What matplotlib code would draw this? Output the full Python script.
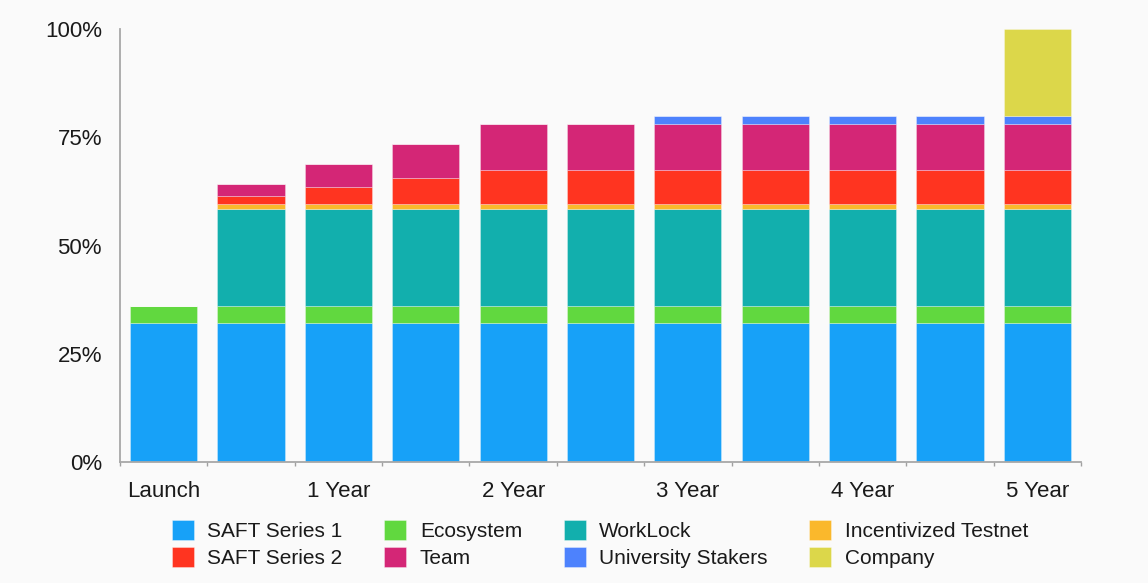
import matplotlib
matplotlib.use("Agg")
import matplotlib.pyplot as plt
import numpy as np
from matplotlib.patches import Patch

categories = ["Launch", "", "1 Year", "", "2 Year", "", "3 Year", "", "4 Year", "", "5 Year"]
saft1 = [32, 32, 32, 32, 32, 32, 32, 32, 32, 32, 32]
ecosystem = [4, 4, 4, 4, 4, 4, 4, 4, 4, 4, 4]
worklock = [0, 22.5, 22.5, 22.5, 22.5, 22.5, 22.5, 22.5, 22.5, 22.5, 22.5]
testnet = [0, 1, 1, 1, 1, 1, 1, 1, 1, 1, 1]
saft2 = [0, 2, 4, 6, 8, 8, 8, 8, 8, 8, 8]
team = [0, 2.65, 5.25, 7.9, 10.5, 10.5, 10.5, 10.5, 10.5, 10.5, 10.5]
university = [0, 0, 0, 0, 0, 0, 2, 2, 2, 2, 2]
company = [0, 0, 0, 0, 0, 0, 0, 0, 0, 0, 20]

series = [
    ("SAFT Series 1", saft1, "#17a1f8"),
    ("Ecosystem", ecosystem, "#61d83f"),
    ("WorkLock", worklock, "#12afad"),
    ("Incentivized Testnet", testnet, "#fab82c"),
    ("SAFT Series 2", saft2, "#ff3420"),
    ("Team", team, "#d42676"),
    ("University Stakers", university, "#4d82fd"),
    ("Company", company, "#dcd74a"),
]

plt.rcParams['font.family'] = ['Liberation Sans', 'DejaVu Sans']
bg = "#fafafa"
txt = "#1a1a1a"
fs = 16
lfs = 15

fig = plt.figure(figsize=(11.48, 5.83), dpi=100, facecolor=bg)
ax = fig.add_axes([120/1148, 1-462/583, 961/1148, (462-29)/583])
ax.set_facecolor(bg)

x = np.arange(len(categories))
bottom = np.zeros(len(categories))
for name, vals, col in series:
    v = np.array(vals, dtype=float)
    ax.bar(x, v, bottom=bottom, width=0.77, color=col, edgecolor=(1, 1, 1, 0.35),
           linewidth=0.6, label=name)
    bottom += v

ax.set_xlim(-0.5, len(categories) - 0.5)
ax.set_ylim(0, 100)
ax.set_yticks([0, 25, 50, 75, 100])
ax.set_yticklabels(["0%", "25%", "50%", "75%", "100%"], fontsize=fs, color=txt)
ax.set_xticks(x)
ax.set_xticklabels(categories, fontsize=fs, color=txt)
ax.set_xticks(np.arange(len(categories) + 1) - 0.5, minor=True)
ax.tick_params(axis='y', length=0, pad=13)
ax.tick_params(axis='x', which='major', length=0, pad=14)
ax.tick_params(axis='x', which='minor', length=3, width=1, color="#a0a0a0")
for s in ["top", "right"]:
    ax.spines[s].set_visible(False)
for s in ["left", "bottom"]:
    ax.spines[s].set_color("#a8a8a8")
    ax.spines[s].set_linewidth(1.3)

order = [0, 4, 1, 5, 2, 6, 3, 7]
handles = [Patch(facecolor=series[i][2], edgecolor=(1, 1, 1, 0.4), linewidth=0.6) for i in order]
labels = [series[i][0] for i in order]
fig.legend(handles, labels, loc='upper left', bbox_to_anchor=(172/1148, 1-520/583),
           ncol=4, frameon=False, fontsize=lfs, handlelength=1.05, handleheight=1.1,
           handletextpad=0.65, columnspacing=2.0, labelspacing=0.28, borderpad=0,
           borderaxespad=0, labelcolor=txt)

fig.savefig("out.png", dpi=100, facecolor=bg)
